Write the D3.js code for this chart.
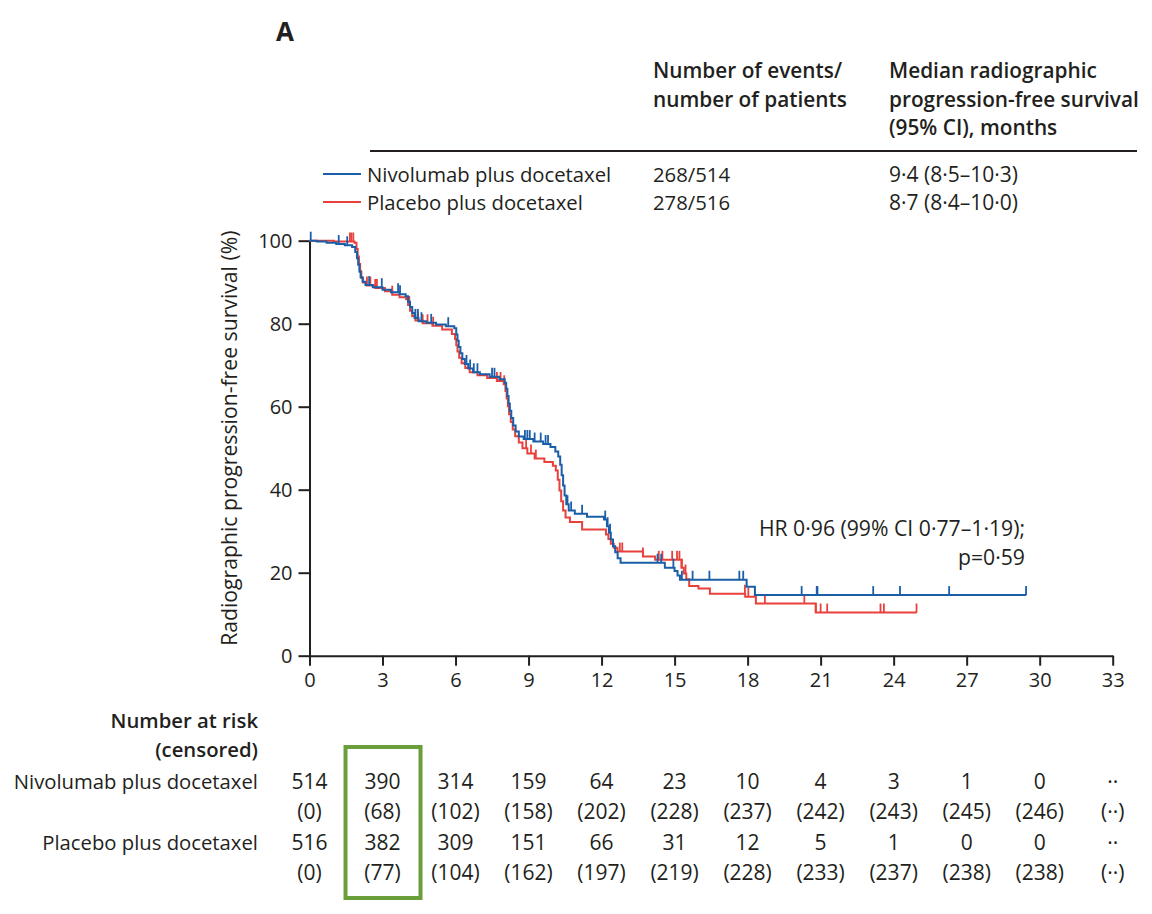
<!DOCTYPE html>
<meta charset="utf-8">
<head>
    <title>Radiographic progression-free survival</title>
    <script type="text/javascript" src="https://cdn.jsdelivr.net/npm/d3@7"></script>
    <style>
        body { margin: 0; background: #fff; }
        text { font-family: "Open Sans", "Noto Sans", sans-serif; fill: #231f20; }
        .axis path, .axis line { stroke: #231f20; stroke-width: 2px; }
        .axis text { font-size: 20px; fill: #231f20; }
        .bold { font-weight: 600; }
    </style>
</head>
<body>
<div id="chart"></div>
<script>

// survival steps [month, %]
var nivSteps = [
    [0, 100], [0.3, 99.8], [0.7, 99.5], [1.1, 99.2], [1.45, 98.9], [1.75, 98.5], [1.88, 97.3], [1.95, 95.8],
    [2.0, 94.2], [2.05, 92.6], [2.1, 91.2], [2.18, 90.1], [2.3, 89.3], [2.6, 88.8], [3.0, 88.2], [3.35, 87.6],
    [3.7, 87.1], [3.95, 86.6], [4.05, 85.3], [4.13, 84.0], [4.22, 82.6], [4.32, 81.4], [4.48, 80.6], [4.8, 80.2],
    [5.2, 79.8], [5.6, 79.4], [5.95, 78.9], [6.03, 77.4], [6.08, 75.9], [6.13, 74.4], [6.2, 72.9], [6.28, 71.5],
    [6.38, 70.3], [6.52, 69.2], [6.72, 68.3], [7.0, 67.8], [7.4, 67.2], [7.8, 66.6], [8.02, 65.8], [8.08, 64.3],
    [8.13, 62.6], [8.18, 60.8], [8.23, 59.0], [8.29, 57.3], [8.37, 55.5], [8.47, 54.0], [8.6, 52.8], [8.8, 52.2],
    [9.2, 51.6], [9.6, 51.0], [9.9, 50.3], [10.1, 49.2], [10.22, 48.0], [10.3, 46.0], [10.36, 43.5], [10.42, 41.0],
    [10.48, 38.6], [10.55, 36.5], [10.65, 35.0], [10.9, 34.2], [11.4, 33.5], [12.1, 32.8], [12.22, 31.2],
    [12.3, 29.6], [12.38, 28.0], [12.47, 26.4], [12.56, 24.9], [12.66, 23.5], [12.78, 22.4], [14.6, 21.2],
    [15.0, 20.4], [15.12, 19.3], [15.22, 18.3], [17.96, 16.6], [18.3, 14.6]
];
var nivEnd = 29.45;
var nivCensor = [0.05, 1.2, 1.55, 2.45, 2.97, 3.64, 3.72, 4.35, 4.45, 4.6, 5.0, 5.7, 6.45, 6.6, 6.75, 6.9, 7.5, 7.6,
    8.85, 8.95, 9.05, 9.25, 9.5, 9.7, 9.8, 10.6, 10.75, 11.2, 12.15, 12.25, 12.35, 14.3, 14.45, 14.95, 15.3,
    15.74, 16.43, 17.66, 17.82, 20.22, 20.84, 20.87, 23.16, 24.26, 26.28, 29.44];

var pboSteps = [
    [0, 100], [1.0, 99.8], [1.85, 99.5], [1.93, 98.0], [1.98, 96.2], [2.03, 94.4], [2.08, 92.6], [2.13, 91.0],
    [2.2, 89.9], [2.35, 89.2], [2.7, 88.6], [3.1, 87.8], [3.4, 87.0], [3.7, 86.4], [3.97, 85.9], [4.05, 84.5],
    [4.13, 83.1], [4.22, 81.8], [4.35, 80.8], [4.65, 80.1], [5.05, 79.5], [5.45, 78.6], [5.85, 77.5], [5.98, 76.3],
    [6.03, 74.8], [6.08, 73.3], [6.15, 71.8], [6.25, 70.5], [6.4, 69.3], [6.58, 68.3], [6.9, 67.6], [7.3, 66.9],
    [7.7, 66.2], [7.98, 65.4], [8.05, 63.8], [8.1, 62.0], [8.15, 60.1], [8.2, 58.2], [8.27, 56.3], [8.35, 54.5],
    [8.45, 52.9], [8.6, 51.4], [8.75, 50.0], [8.95, 48.7], [9.25, 47.5], [9.65, 46.7], [10.0, 45.8], [10.12, 44.6],
    [10.2, 42.4], [10.27, 39.8], [10.34, 37.2], [10.42, 35.0], [10.52, 33.3], [10.7, 32.2], [11.2, 30.4],
    [12.18, 29.2], [12.28, 28.1], [12.38, 27.0], [12.5, 26.0], [12.65, 25.1], [13.7, 23.9], [14.2, 23.1],
    [15.28, 21.2], [15.38, 19.8], [15.48, 18.4], [15.6, 16.8], [15.98, 16.2], [16.45, 14.9], [17.9, 14.2],
    [18.34, 12.6], [20.8, 10.4]
];
var pboEnd = 24.95;
var pboCensor = [1.66, 1.72, 1.8, 2.36, 2.5, 2.7, 2.77, 3.4, 4.1, 4.46, 4.65, 4.85, 5.08, 7.7, 7.85, 8.0, 8.9,
    9.1, 9.3, 12.75, 12.85, 13.7, 14.35, 14.5, 14.9, 15.1, 15.2, 15.3, 15.45, 17.89, 18.03, 18.71, 20.33, 20.8,
    21.0, 21.27, 23.46, 23.6, 24.94];

// axis ticks
var xTicks = [0, 3, 6, 9, 12, 15, 18, 21, 24, 27, 30, 33];
var yTicks = [0, 20, 40, 60, 80, 100];

// legend table
var armNames = ["Nivolumab plus docetaxel", "Placebo plus docetaxel"];
var armEvents = ["268/514", "278/516"];
var armMedian = ["9·4 (8·5–10·3)", "8·7 (8·4–10·0)"];

// number at risk (censored)
var nivAtRisk = ["514", "390", "314", "159", "64", "23", "10", "4", "3", "1", "0", "··"];
var nivCens = ["(0)", "(68)", "(102)", "(158)", "(202)", "(228)", "(237)", "(242)", "(243)", "(245)", "(246)", "(··)"];
var pboAtRisk = ["516", "382", "309", "151", "66", "31", "12", "5", "1", "0", "0", "··"];
var pboCens = ["(0)", "(77)", "(104)", "(162)", "(197)", "(219)", "(228)", "(233)", "(237)", "(238)", "(238)", "(··)"];

var blue = "#1b5ea8", red = "#e8413c";

var width = 1152, height = 914;

var svg = d3.select("#chart").append("svg")
    .attr("width", width)
    .attr("height", height);

var x = d3.scaleLinear().domain([0, 33]).range([309.5, 1112.7]);
var y = d3.scaleLinear().domain([0, 100]).range([655.7, 240.7]);

// panel letter
svg.append("text").attr("x", 276).attr("y", 41)
    .style("font-size", "26px").style("font-weight", "bold").text("A");

// table header
var head1 = ["Number of events/", "number of patients"];
var head2 = ["Median radiographic", "progression-free survival", "(95% CI), months"];
head1.forEach(function (t, i) {
    svg.append("text").attr("class", "bold").attr("x", 653).attr("y", 78 + i * 28.5)
        .style("font-size", "20.8px").text(t);
});
head2.forEach(function (t, i) {
    svg.append("text").attr("class", "bold").attr("x", 889).attr("y", 78 + i * 28.5)
        .style("font-size", "20.8px").text(t);
});
svg.append("line").attr("x1", 370).attr("x2", 1137).attr("y1", 151).attr("y2", 151)
    .attr("stroke", "#231f20").attr("stroke-width", 2);

[blue, red].forEach(function (c, i) {
    var yy = 174 + i * 28;
    svg.append("line").attr("x1", 323).attr("x2", 361).attr("y1", yy).attr("y2", yy)
        .attr("stroke", c).attr("stroke-width", 2);
    svg.append("text").attr("x", 367).attr("y", yy + 8).style("font-size", "20.3px").text(armNames[i]);
    svg.append("text").attr("x", 653).attr("y", yy + 8).style("font-size", "20.3px").text(armEvents[i]);
    svg.append("text").attr("x", 889).attr("y", yy + 8).style("font-size", "21px").text(armMedian[i]);
});

// axes
svg.append("g").attr("class", "axis")
    .attr("transform", "translate(0," + y(0) + ")")
    .call(d3.axisBottom(x).tickValues(xTicks).tickSize(10).tickSizeOuter(0).tickPadding(7));

svg.append("g").attr("class", "axis")
    .attr("transform", "translate(" + x(0) + ",0)")
    .call(d3.axisLeft(y).tickValues(yTicks).tickSize(11).tickSizeOuter(0).tickPadding(6));

svg.append("text")
    .attr("transform", "translate(237," + ((y(0) + y(100)) / 2 - 10) + ") rotate(-90)")
    .attr("text-anchor", "middle").style("font-size", "21.2px")
    .text("Radiographic progression-free survival (%)");

// curves
function survAt(steps, t) {
    var i = d3.bisector(function (d) { return d[0]; }).right(steps, t) - 1;
    return steps[Math.max(i, 0)][1];
}

var line = d3.line()
    .x(function (d) { return x(d[0]); })
    .y(function (d) { return y(d[1]); })
    .curve(d3.curveStepAfter);

function drawArm(steps, end, censor, color) {
    var pts = steps.concat([[end, steps[steps.length - 1][1]]]);
    var g = svg.append("g");
    g.append("path").datum(pts).attr("d", line)
        .attr("fill", "none").attr("stroke", color).attr("stroke-width", 2);
    g.selectAll("line").data(censor).enter().append("line")
        .attr("x1", function (d) { return x(d); })
        .attr("x2", function (d) { return x(d); })
        .attr("y1", function (d) { return y(survAt(steps, d)); })
        .attr("y2", function (d) { return y(survAt(steps, d)) - 9; })
        .attr("stroke", color).attr("stroke-width", 1.8);
}

drawArm(pboSteps, pboEnd, pboCensor, red);
drawArm(nivSteps, nivEnd, nivCensor, blue);

// hazard ratio
svg.append("text").attr("x", 1025).attr("y", 536).attr("text-anchor", "end")
    .style("font-size", "21.2px").text("HR 0·96 (99% CI 0·77–1·19);");
svg.append("text").attr("x", 1025).attr("y", 565).attr("text-anchor", "end")
    .style("font-size", "21.2px").text("p=0·59");

// number at risk table
svg.append("text").attr("class", "bold").attr("x", 258).attr("y", 728).attr("text-anchor", "end")
    .style("font-size", "20.3px").text("Number at risk");
svg.append("text").attr("class", "bold").attr("x", 258).attr("y", 757).attr("text-anchor", "end")
    .style("font-size", "20.3px").text("(censored)");
svg.append("text").attr("x", 258).attr("y", 789).attr("text-anchor", "end")
    .style("font-size", "20.3px").text(armNames[0]);
svg.append("text").attr("x", 258).attr("y", 850).attr("text-anchor", "end")
    .style("font-size", "20.3px").text(armNames[1]);

var rows = [[nivAtRisk, 789], [nivCens, 819], [pboAtRisk, 850], [pboCens, 880]];
rows.forEach(function (r) {
    svg.append("g").selectAll("text").data(r[0]).enter().append("text")
        .attr("x", function (d, i) { return x(xTicks[i]); })
        .attr("y", r[1])
        .attr("text-anchor", "middle")
        .style("font-size", "21px")
        .text(function (d) { return d; });
});

// highlight box round the 3-month column
svg.append("rect")
    .attr("x", x(3) - 37).attr("y", 747)
    .attr("width", 75).attr("height", 151)
    .attr("fill", "none").attr("stroke", "#6a9e3a").attr("stroke-width", 4);

</script>
</body>
</html>
